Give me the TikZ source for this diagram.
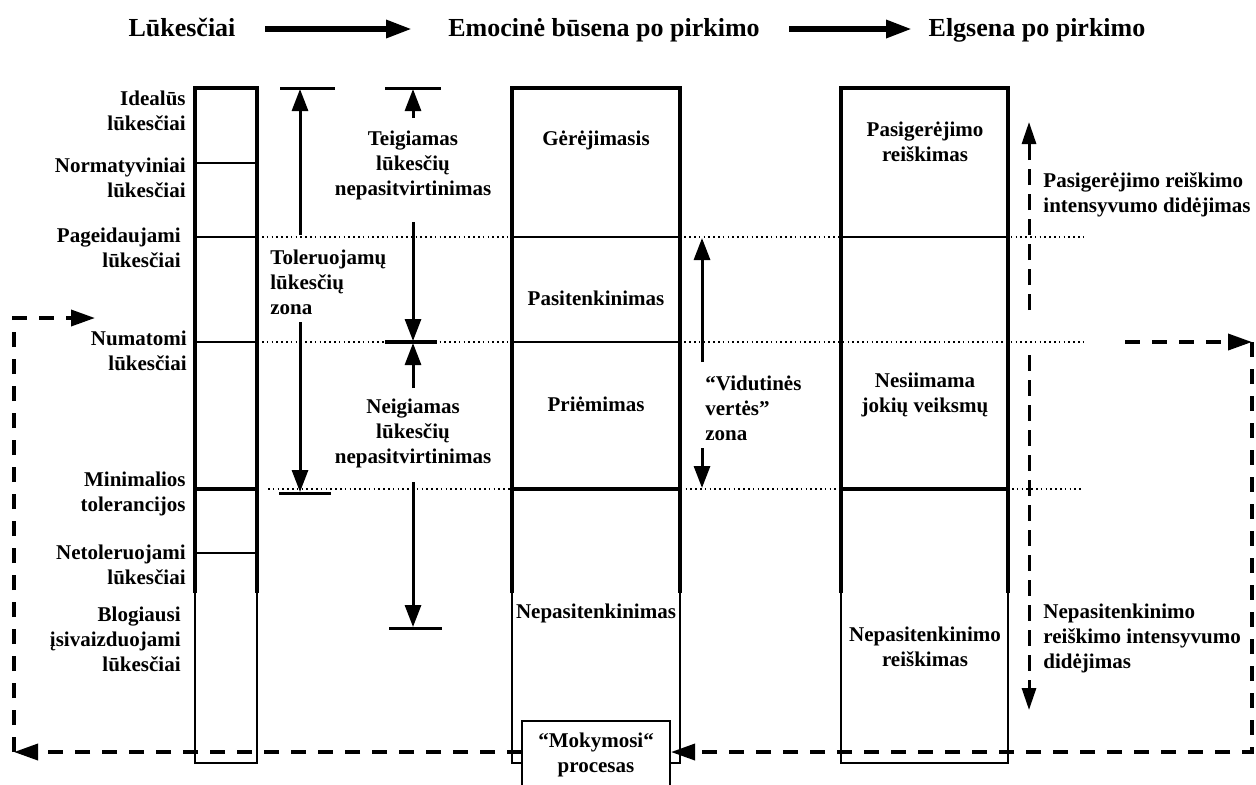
\documentclass[tikz,border=0pt]{standalone}
\usepackage{fontspec}
\setmainfont{Liberation Serif}
\usetikzlibrary{arrows.meta, positioning}
\tikzset{
    lbl/.style={font=\fontsize{10.5}{12.5}\selectfont\bfseries, inner sep=0pt, align=center},
    hdr/.style={font=\fontsize{13}{15}\selectfont\bfseries, inner sep=0pt, anchor=base},
    hdrarrow/.style={line width=3pt, -{Triangle[length=13pt,width=8.5pt]}},
    colwall/.style={line width=2.3pt},
    colthin/.style={line width=0.8pt},
    midline/.style={line width=1pt},
    dotline/.style={line width=0.8pt, dash pattern=on 0.8pt off 1.6pt},
    zonearrow/.style={line width=1.5pt, -{Triangle[length=11pt,width=8pt]}},
    tolbar/.style={line width=1.5pt},
    learnpath/.style={line width=1.8pt, dash pattern=on 7.5pt off 6pt, -{Triangle[length=12pt,width=8pt]}},
    trendpath/.style={line width=1.5pt, dash pattern=on 8pt off 4.5pt, -{Triangle[length=11pt,width=7pt]}}
}

\begin{document}
\begin{tikzpicture}[x=0.5pt, y=-0.5pt]
    \useasboundingbox (0,0) rectangle (1256,784);

    % Headers
    \node[hdr] (hluk) at (182,36) {Lūkesčiai};
    \node[hdr] (hemo) at (604,36) {Emocinė būsena po pirkimo};
    \node[hdr] (helg) at (1037,36) {Elgsena po pirkimo};
    \draw[hdrarrow] (265,29) -- (412,29);
    \draw[hdrarrow] (789,29) -- (912,29);

    % Dotted levels
    \draw[dotline] (262,237) -- (1083,237);
    \draw[dotline] (262,342) -- (1083,342);
    \draw[dotline] (268,489) -- (1083,489);

    % Columns
    \foreach \xl/\xr in {195/257, 512/680, 841/1008} {
        \draw[colthin] (\xl,593) -- (\xl,763) -- (\xr,763) -- (\xr,593);
        \draw[colwall] (\xl,593) -- (\xl,88) -- (\xr,88) -- (\xr,593);
        \draw[colwall] (\xl,489) -- (\xr,489);
        \draw[midline] (\xl,237) -- (\xr,237);
    }
    \foreach \y in {163, 342, 553}
        \draw[midline] (195,\y) -- (257,\y);
    \draw[midline] (512,342) -- (680,342);

    % Expectation levels
    \node[lbl, anchor=east, align=right] (ideal) at (186,111) {Idealūs\\lūkesčiai};
    \node[lbl, anchor=east, align=right] (norm) at (186,178) {Normatyviniai\\lūkesčiai};
    \node[lbl, anchor=east, align=right] (pag) at (181,248) {Pageidaujami\\lūkesčiai};
    \node[lbl, anchor=east, align=right] (num) at (187,351) {Numatomi\\lūkesčiai};
    \node[lbl, anchor=east, align=right] (min) at (186,494) {Minimalios\\tolerancijos};
    \node[lbl, anchor=east, align=right] (netol) at (186,565) {Netoleruojami\\lūkesčiai};
    \node[lbl, anchor=east, align=right] (blog) at (181,639) {Blogiausi\\įsivaizduojami\\lūkesčiai};

    % Tolerance zone
    \draw[tolbar] (280,88) -- (335,88);
    \draw[tolbar] (279,493) -- (331,493);
    \node[lbl, anchor=west, align=left] (tolzone) at (270,282) {Toleruojamų\\lūkesčių\\zona};
    \draw[zonearrow] (300,235) -- (300,89);
    \draw[zonearrow] (300,322) -- (300,492);

    % Disconfirmation
    \draw[tolbar] (385,88) -- (441,88);
    \draw[line width=2pt] (385,342) -- (437,342);
    \draw[tolbar] (389,628) -- (442,628);
    \node[lbl] (teig) at (413,165) {Teigiamas\\lūkesčių\\nepasitvirtinimas};
    \node[lbl] (neig) at (413,433) {Neigiamas\\lūkesčių\\nepasitvirtinimas};
    \draw[zonearrow] (413,118) -- (413,89);
    \draw[zonearrow] (413,222) -- (413,341);
    \draw[zonearrow] (413,388) -- (413,343);
    \draw[zonearrow] (413,482) -- (413,627);

    % Emotional state
    \node[lbl] (gerej) at (596,140) {Gėrėjimasis};
    \node[lbl] (pasit) at (596,298) {Pasitenkinimas};
    \node[lbl] (priem) at (596,404) {Priėmimas};
    \node[lbl] (nepas) at (596,613) {Nepasitenkinimas};
    \node[lbl, anchor=west, align=left] (vidut) at (705,408) {“Vidutinės\\vertės”\\zona};
    \draw[zonearrow] (702,362) -- (702,238);
    \draw[zonearrow] (702,448) -- (702,488);

    % Behaviour
    \node[lbl] (pasig) at (925,142) {Pasigerėjimo\\reiškimas};
    \node[lbl] (nesi) at (925,395) {Nesiimama\\jokių veiksmų};
    \node[lbl] (nepasr) at (925,647) {Nepasitenkinimo\\reiškimas};
    \node[lbl, anchor=west, align=left] (pasint) at (1043,195) {Pasigerėjimo reiškimo\\intensyvumo didėjimas};
    \node[lbl, anchor=west, align=left] (nepint) at (1043,638) {Nepasitenkinimo\\reiškimo intensyvumo\\didėjimas};
    \draw[trendpath] (1029,310) -- (1029,122);
    \draw[trendpath] (1029,355) -- (1029,710);

    % Learning loop
    \draw[colthin, fill=white] (522,790) -- (522,721) -- (670,721) -- (670,790);
    \node[lbl] (mok) at (596,755) {“Mokymosi“\\procesas};
    \coordinate (rtop) at (1125,342);
    \coordinate (rcorner) at (1252,342);
    \coordinate (rbot) at (1252,752);
    \coordinate (mokR) at (671,752);
    \coordinate (mokL) at (522,752);
    \coordinate (lbot) at (14,752);
    \coordinate (ltop) at (14,318);
    \coordinate (lend) at (95,318);
    \draw[learnpath] (rtop) -- (rcorner);
    \draw[learnpath] (rcorner) -- (rbot) -- (mokR);
    \draw[learnpath] (mokL) -- (lbot);
    \draw[learnpath] (lbot) -- (ltop) -- (lend);
\end{tikzpicture}
\end{document}
